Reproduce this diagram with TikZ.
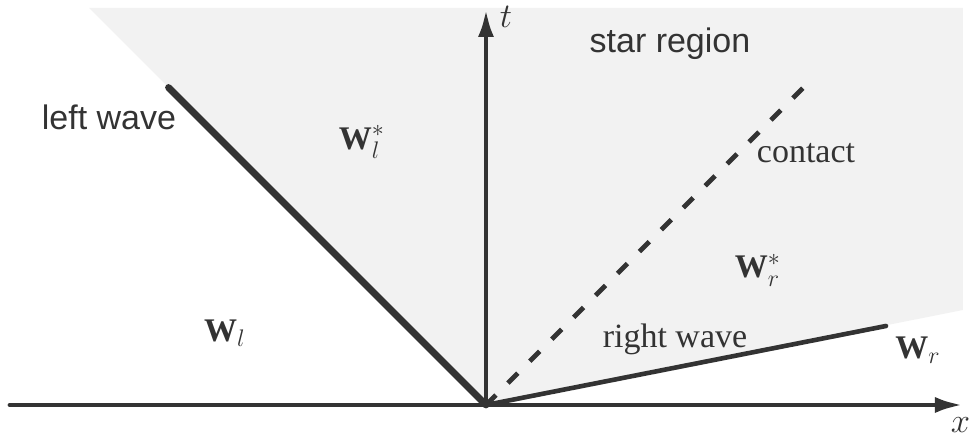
\documentclass[tikz,border=0pt]{standalone}
\usepackage{fontspec}
\setmainfont{Liberation Serif}
\setsansfont{Liberation Sans}
\usepackage{amsmath}
\usetikzlibrary{arrows.meta}
\definecolor{ink}{RGB}{51,51,51}
\definecolor{starfill}{RGB}{242,242,242}

\begin{document}
\begin{tikzpicture}[x=25pt, y=25pt,
  axis/.style={line width=2.4pt, color=ink, line cap=round, -{Latex[length=14pt, width=8pt]}},
  wave/.style={line width=#1, color=ink, line cap=round},
  contactline/.style={line width=2.4pt, color=ink, dash pattern=on 7pt off 8.5pt},
  sanslabel/.style={font=\sffamily\fontsize{17}{20}\selectfont, text=ink, anchor=base},
  seriflabel/.style={font=\rmfamily\fontsize{17}{20}\selectfont, text=ink, anchor=base},
  statelabel/.style={font=\fontsize{16.5}{19}\selectfont, text=ink},
]
  \useasboundingbox (-9.72,-0.64) rectangle (9.70,8.1);

  % Key points
  \coordinate (O) at (0,0);
  \coordinate (xleft) at (-9.52,0);
  \coordinate (xright) at (9.54,0);
  \coordinate (ttop) at (0,7.92);
  \coordinate (lwend) at (-6.35,6.35);
  \coordinate (ctend) at (6.35,6.35);
  \coordinate (rwend) at (8,1.58);

  % Star region
  \fill[starfill] (-7.94,7.94) -- (9.54,7.94) -- (9.54,1.9) -- (O) -- cycle;

  % Waves and contact
  \draw[contactline] (O) -- (ctend);
  \draw[wave=3.4pt] (O) -- (lwend);
  \draw[wave=2.3pt] (O) -- (rwend);

  % Axes
  \draw[axis] (xleft) -- (xright);
  \draw[axis] (O) -- (ttop);
  \node[statelabel, inner sep=1pt] (xlab) at (9.49,-0.4) {$x$};
  \node[statelabel] (tlab) at (0.4,7.76) {$t$};

  % Labels
  \node[sanslabel] (leftlab) at (-7.54,5.5) {left wave};
  \node[sanslabel] (starlab) at (3.68,7.04) {star region};
  \node[seriflabel] (contlab) at (6.4,4.84) {contact};
  \node[seriflabel] (rightlab) at (3.78,1.14) {right wave};

  % States
  \node[statelabel] (wl) at (-5.22,1.44) {$\mathbf{W}_l$};
  \node[statelabel] (wls) at (-2.48,5.26) {$\mathbf{W}_l^*$};
  \node[statelabel] (wrs) at (5.44,2.7) {$\mathbf{W}_r^*$};
  \node[statelabel] (wr) at (8.64,1.1) {$\mathbf{W}_r$};
\end{tikzpicture}
\end{document}
